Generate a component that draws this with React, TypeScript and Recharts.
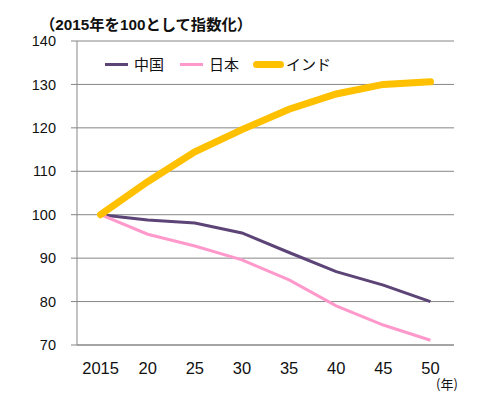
import React from "react";
import { LineChart, Line, XAxis, YAxis, CartesianGrid } from "recharts";

const categories = ["2015", "20", "25", "30", "35", "40", "45", "50"];
const china = [100, 98.8, 98.1, 95.8, 91.3, 86.9, 83.8, 80.0];
const japan = [100, 95.5, 92.8, 89.6, 85.0, 79.0, 74.6, 71.1];
const india = [100, 107.6, 114.5, 119.6, 124.3, 127.8, 130.0, 130.6];
const yTicks = [70, 80, 90, 100, 110, 120, 130, 140];

const seriesNames = { china: "中国", japan: "日本", india: "インド" };
const colors = { china: "#5C4477", japan: "#FF99CC", india: "#FFC000" };

const data = categories.map((c, i) => ({
  i,
  label: c,
  china: china[i],
  japan: japan[i],
  india: india[i],
}));

const labelTicks = categories.map((_, i) => i);
const boundTicks = [...categories.map((_, i) => i - 0.5), categories.length - 0.5];

const FONT = "'Noto Sans CJK JP', 'Noto Sans', sans-serif";
const NUMFONT = "'Liberation Sans', 'Noto Sans CJK JP', sans-serif";
const GRID = "#868686";

export default function App() {
  const legendItems = [
    { key: "china", w: 3 },
    { key: "japan", w: 3 },
    { key: "india", w: 7 },
  ] as const;
  return (
    <div style={{ position: "absolute", left: 0, top: 0, width: 500, height: 398, background: "#fff", fontFamily: FONT }}>
      <div style={{ position: "absolute", left: 40, top: 15.5, fontFamily: NUMFONT, fontSize: 15.3, fontWeight: "bold", color: "#111", whiteSpace: "nowrap", lineHeight: "17px" }}>
        （2015年を100として指数化）
      </div>
      <LineChart width={500} height={398} data={data} margin={{ top: 41, right: 46, left: 0, bottom: 23 }}>
        <CartesianGrid horizontal vertical={false} stroke={GRID} strokeWidth={1} />
        <XAxis
          xAxisId="bounds"
          type="number"
          dataKey="i"
          domain={[-0.5, categories.length - 0.5]}
          ticks={boundTicks}
          tick={false}
          axisLine={false}
          tickLine={{ stroke: GRID }}
          tickSize={6}
          height={0}
          allowDataOverflow
        />
        <XAxis
          xAxisId="labels"
          type="number"
          dataKey="i"
          domain={[-0.5, categories.length - 0.5]}
          ticks={labelTicks}
          tickFormatter={(v: number) => categories[v]}
          tickLine={false}
          axisLine={{ stroke: GRID }}
          tickSize={6}
          tickMargin={11}
          height={30}
          interval={0}
          tick={{ fontSize: 16.5, fill: "#111", fontFamily: NUMFONT }}
          allowDataOverflow
        />
        <YAxis
          domain={[70, 140]}
          ticks={yTicks}
          width={77}
          interval={0}
          axisLine={{ stroke: GRID }}
          tickLine={{ stroke: GRID }}
          tickSize={6}
          tickMargin={15}
          tick={{ fontSize: 14.5, fill: "#111", fontFamily: NUMFONT }}
        />
        <Line xAxisId="labels" type="linear" dataKey="china" name={seriesNames.china} stroke={colors.china} strokeWidth={3} dot={false} isAnimationActive={false} />
        <Line xAxisId="labels" type="linear" dataKey="japan" name={seriesNames.japan} stroke={colors.japan} strokeWidth={3} dot={false} isAnimationActive={false} />
        <Line xAxisId="labels" type="linear" dataKey="india" name={seriesNames.india} stroke={colors.india} strokeWidth={7} strokeLinecap="round" dot={false} isAnimationActive={false} />
      </LineChart>
      <div style={{ position: "absolute", left: 105, top: 53, display: "flex", alignItems: "center", fontSize: 15, color: "#111", whiteSpace: "nowrap", lineHeight: "22px" }}>
        {legendItems.map((it, idx) => (
          <div key={it.key} style={{ display: "flex", alignItems: "center", marginRight: idx === 0 ? 16 : 14 }}>
            <span style={{ display: "inline-block", width: it.key === "india" ? 31 : 23, height: it.w, background: colors[it.key], borderRadius: it.key === "india" ? 4 : 0, marginRight: it.key === "india" ? 2 : 6 }} />
            <span>{seriesNames[it.key]}</span>
          </div>
        ))}
      </div>
      <div style={{ position: "absolute", left: 436, top: 375, fontSize: 13, color: "#111", whiteSpace: "nowrap", lineHeight: "18px" }}>
        (年)
      </div>
    </div>
  );
}
